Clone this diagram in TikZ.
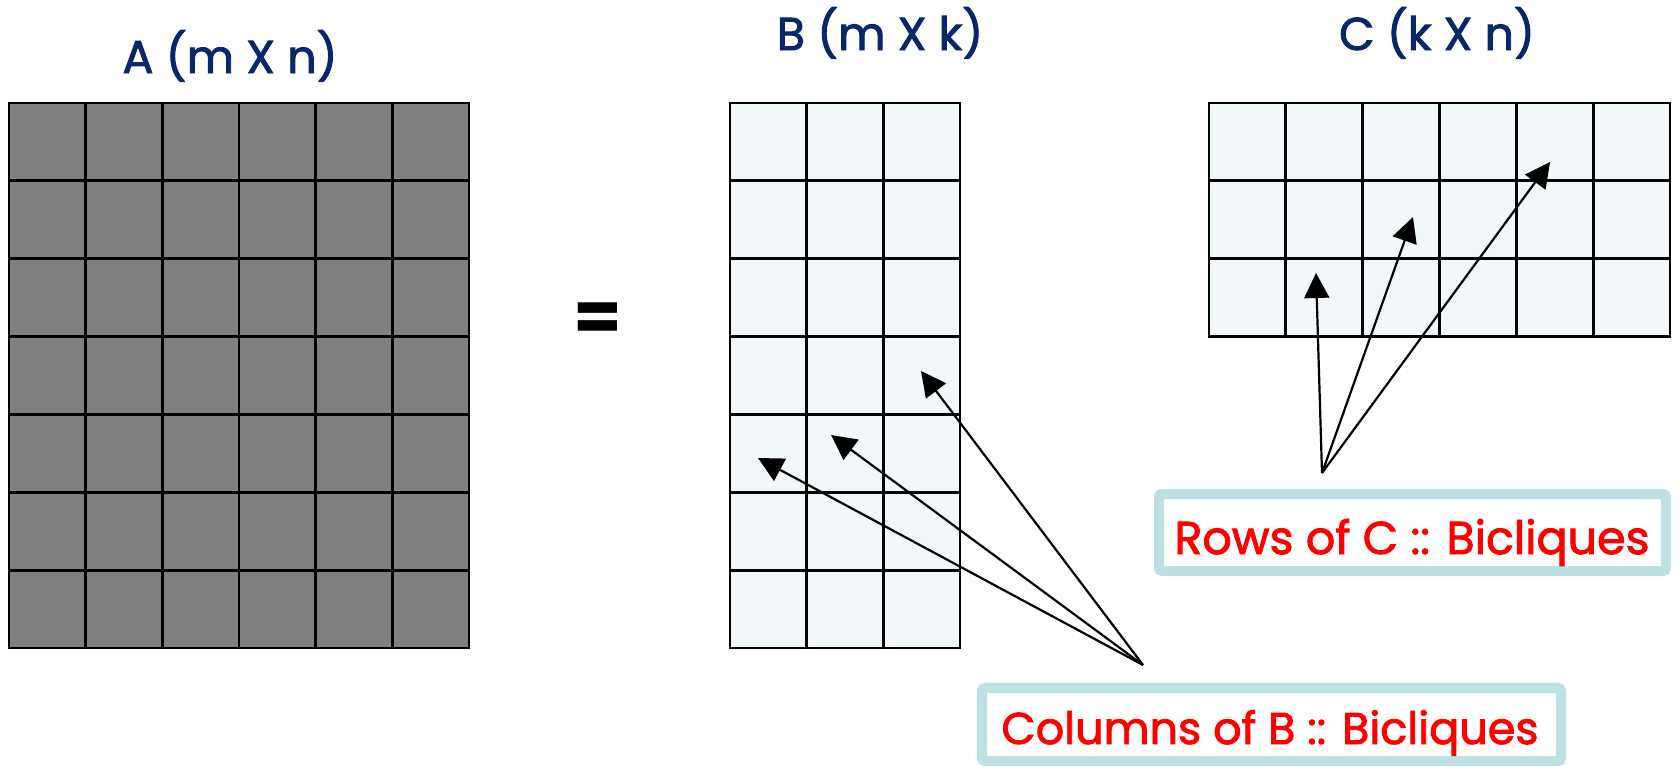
\documentclass[tikz,border=0pt]{standalone}
\usepackage{fontspec}
\setmainfont{Poppins}
\newfontfamily\thickfont{Poppins}[FakeBold=2]
\usetikzlibrary{arrows.meta,calc}
\definecolor{navy}{RGB}{8,38,105}
\definecolor{cellblue}{RGB}{242,247,250}
\definecolor{boxblue}{RGB}{188,224,227}
\definecolor{cellgray}{RGB}{128,128,128}
\begin{document}
\begin{tikzpicture}[x=1pt,y=-1pt,
  matrixbox/.style={draw=black, line width=2.8pt, inner sep=0pt, outer sep=0pt, anchor=north west},
  gridline/.style={line width=2.8pt, black},
  title/.style={text=navy, font=\thickfont\fontsize{46}{50}\selectfont, anchor=base, inner sep=0pt},
  labeltext/.style={text=red, font=\thickfont\fontsize{46}{50}\selectfont, anchor=base, inner sep=0pt},
  labelbox/.style={draw=boxblue, line width=10pt, rounded corners=3pt, fill=white, inner sep=0pt},
  pointer/.style={line width=2.2pt, black, -{Triangle[length=25pt,width=25pt]}}
]
\useasboundingbox (0,0) rectangle (1680,766);

% Matrix A
\node[matrixbox, fill=cellgray, minimum width=460pt, minimum height=545pt] (A) at (9,103) {};
\foreach \i in {1,...,5}
  \draw[gridline] ($(A.north west)!\i/6!(A.north east)$) -- ($(A.south west)!\i/6!(A.south east)$);
\foreach \j in {1,...,6}
  \draw[gridline] ($(A.north west)!\j/7!(A.south west)$) -- ($(A.north east)!\j/7!(A.south east)$);

% Matrix B
\node[matrixbox, fill=cellblue, minimum width=230pt, minimum height=545pt] (B) at (730,103) {};
\foreach \i in {1,2}
  \draw[gridline] ($(B.north west)!\i/3!(B.north east)$) -- ($(B.south west)!\i/3!(B.south east)$);
\foreach \j in {1,...,6}
  \draw[gridline] ($(B.north west)!\j/7!(B.south west)$) -- ($(B.north east)!\j/7!(B.south east)$);

% Matrix C
\node[matrixbox, fill=cellblue, minimum width=461pt, minimum height=233.5pt] (C) at (1209,103) {};
\foreach \i in {1,...,5}
  \draw[gridline] ($(C.north west)!\i/6!(C.north east)$) -- ($(C.south west)!\i/6!(C.south east)$);
\foreach \j in {1,2}
  \draw[gridline] ($(C.north west)!\j/3!(C.south west)$) -- ($(C.north east)!\j/3!(C.south east)$);

% Titles
\node[title] (tA) at (230,73) {A (m X n)};
\node[title] (tB) at (880,50) {B (m X k)};
\node[title] (tC) at (1437,50) {C (k X n)};

% Equals sign
\node[font=\fontsize{70}{74}\selectfont\bfseries, inner sep=0pt] (eq) at (598,322) {=};

% Arrow coordinates
\coordinate (bsrc) at (1143,665);
\coordinate (b1) at (758,458);
\coordinate (b2) at (831,435);
\coordinate (b3) at (921,371);
\coordinate (csrc) at (1322,473);
\coordinate (c1) at (1316,273);
\coordinate (c2) at (1413,217);
\coordinate (c3) at (1550,162);

\draw[pointer] (bsrc) -- (b1);
\draw[pointer] (bsrc) -- (b2);
\draw[pointer] (bsrc) -- (b3);
\draw[pointer] (csrc) -- (c1);
\draw[pointer] (csrc) -- (c2);
\draw[pointer] (csrc) -- (c3);

% Label boxes
\node[labelbox, minimum width=507pt, minimum height=77pt] (rowsbox) at (1412.5,532.5) {};
\node[labeltext] (rowstext) at (1412,554) {Rows of C :: Bicliques};
\node[labelbox, minimum width=579pt, minimum height=73pt] (colsbox) at (1271.5,724.5) {};
\node[labeltext, font=\thickfont\fontsize{44.5}{50}\selectfont] (colstext) at (1270,744) {Columns of B :: Bicliques};
\end{tikzpicture}
\end{document}
